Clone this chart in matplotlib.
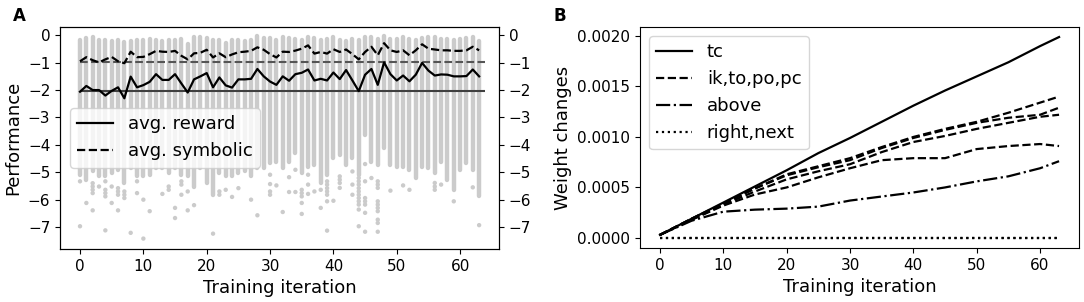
import matplotlib
matplotlib.use("Agg")
import matplotlib.pyplot as plt
from matplotlib.ticker import FormatStrFormatter
import numpy as np

# ---------------- Panel A data ----------------
iterations = list(range(64))

avg_reward = [-2.06, -1.85, -2.00, -2.00, -2.20, -2.03, -1.90, -2.30, -1.51, -1.90,
              -1.82, -1.70, -1.42, -1.63, -1.63, -1.42, -1.76, -2.09, -1.61, -1.50,
              -1.38, -1.90, -1.54, -1.83, -1.91, -1.61, -1.61, -1.59, -1.23, -1.50,
              -1.69, -1.81, -1.50, -1.66, -1.42, -1.37, -1.25, -1.65, -1.59, -1.65,
              -1.36, -1.60, -1.27, -1.65, -2.04, -1.44, -1.23, -1.81, -0.99, -1.42,
              -1.65, -1.47, -1.68, -1.44, -1.01, -1.29, -1.47, -1.43, -1.44, -1.50,
              -1.50, -1.49, -1.25, -1.50]

avg_symbolic = [-0.95, -0.80, -0.91, -0.99, -0.88, -0.79, -0.95, -1.02, -0.60, -0.80,
                -0.79, -0.69, -0.57, -0.60, -0.61, -0.57, -0.75, -0.88, -0.66, -0.64,
                -0.53, -0.81, -0.66, -0.80, -0.70, -0.62, -0.60, -0.57, -0.44, -0.53,
                -0.69, -0.81, -0.60, -0.61, -0.56, -0.49, -0.37, -0.67, -0.61, -0.67,
                -0.51, -0.61, -0.52, -0.69, -0.88, -0.61, -0.42, -0.73, -0.29, -0.55,
                -0.61, -0.55, -0.73, -0.55, -0.33, -0.49, -0.52, -0.55, -0.55, -0.57,
                -0.57, -0.55, -0.42, -0.55]

baseline_reward = -2.05
baseline_symbolic = -0.96

# dense part of each iteration's reward distribution (top / bottom of the column)
column_top = [-0.17, -0.10, -0.07, -0.19, -0.17, -0.22, -0.16, -0.25, -0.22, -0.17,
              -0.17, -0.15, -0.17, -0.22, -0.17, -0.19, -0.13, -0.32, -0.05, -0.07,
              -0.10, -0.19, -0.17, -0.29, -0.19, -0.19, -0.22, -0.19, -0.01, -0.10,
              -0.10, -0.17, -0.07, -0.10, -0.15, -0.17, -0.07, -0.10, -0.19, -0.13,
              -0.07, -0.17, -0.22, -0.13, -0.19, -0.07, -0.05, -0.13, -0.01, -0.13,
              -0.15, -0.07, -0.13, -0.17, -0.10, -0.07, -0.07, -0.13, -0.15, -0.17,
              -0.15, -0.10, -0.07, -0.22]

column_bottom = [-5.09, -5.27, -4.97, -5.15, -5.15, -5.03, -4.91, -5.39, -4.85, -5.15,
                 -5.15, -5.09, -4.85, -4.85, -5.03, -4.85, -5.09, -5.15, -5.52, -4.85,
                 -5.39, -5.82, -5.03, -5.15, -5.15, -5.03, -4.97, -5.15, -4.85, -4.85,
                 -4.67, -4.61, -4.85, -4.61, -4.30, -5.03, -4.79, -4.73, -5.39, -5.09,
                 -4.48, -4.36, -4.73, -4.48, -5.09, -3.64, -4.61, -4.73, -4.12, -4.73,
                 -4.79, -4.79, -4.91, -5.21, -4.79, -4.85, -5.03, -4.61, -5.27, -5.64,
                 -4.91, -4.67, -4.91, -5.88]

# isolated low rewards per iteration
outliers = [
    [-5.33, -6.97], [-6.12], [-5.40, -5.52, -5.64, -5.76, -6.39], [-5.52],
    [-5.33, -5.64, -5.76, -5.88, -7.12], [-5.52, -6.12], [-5.58, -5.70, -5.82, -6.39],
    [-5.70, -5.82, -5.94], [-7.21], [-5.33, -5.76],
    [-6.00, -7.42], [-6.42], [], [-5.79], [-5.52, -5.64], [-6.30, -6.67],
    [-5.33, -5.45, -5.82], [-5.70, -6.39], [-6.20], [],
    [], [-7.24], [-5.70, -5.82], [-5.64], [-5.90], [-5.58], [], [-6.00], [-6.57], [],
    [-5.09, -5.43, -5.70, -5.82], [-5.48], [-6.45], [-5.18, -5.72], [-4.91, -5.72],
    [-5.64, -5.76, -5.88, -6.12, -6.52], [-5.09, -5.45, -5.79], [-5.70], [-5.64, -6.30],
    [-5.33, -5.45, -5.58, -5.70, -5.82, -6.06, -7.13],
    [-6.04], [-5.15, -5.27, -5.39, -5.57], [], [-4.97, -5.45, -5.82],
    [-5.21, -5.33, -5.45, -5.58, -5.70, -5.82, -5.94, -6.06, -6.18, -6.36, -6.97],
    [-4.70, -5.33, -5.94, -6.06, -6.18, -6.48, -7.17], [-5.21],
    [-5.33, -5.45, -5.57, -6.06, -6.18, -6.30, -6.42, -6.73, -6.85, -7.17],
    [], [-5.67],
    [], [-5.48], [-5.64], [], [], [], [-5.39, -5.52, -5.64], [-5.45], [], [-6.06],
    [], [], [-5.55], [-6.93],
]

perf_ticks = [0, -1, -2, -3, -4, -5, -6, -7]

# ---------------- Panel B data ----------------
iter_b = [0, 5, 10, 15, 20, 25, 30, 35, 40, 45, 50, 55, 60, 63]
w_tc = [0.00003, 0.00019, 0.00035, 0.00051, 0.00067, 0.00084, 0.00099, 0.00115,
        0.00131, 0.00146, 0.00160, 0.00174, 0.00190, 0.00199]
w_ik = [0.00003, 0.00019, 0.00034, 0.00049, 0.00063, 0.00071, 0.00079, 0.00090,
        0.00100, 0.00108, 0.00115, 0.00124, 0.00134, 0.00140]
w_to = [0.00003, 0.00019, 0.00034, 0.00049, 0.00062, 0.00070, 0.00077, 0.00089,
        0.00099, 0.00107, 0.00114, 0.00119, 0.00122, 0.00129]
w_po = [0.00003, 0.00018, 0.00033, 0.00046, 0.00058, 0.00066, 0.00073, 0.00085,
        0.00095, 0.00101, 0.00108, 0.00114, 0.00120, 0.00122]
w_pc = [0.00003, 0.00018, 0.00032, 0.00043, 0.00050, 0.00060, 0.00069, 0.00077,
        0.00079, 0.00079, 0.00088, 0.00091, 0.00093, 0.00091]
w_above = [0.00003, 0.00017, 0.00026, 0.00028, 0.00029, 0.00031, 0.00037, 0.00041,
           0.00045, 0.00050, 0.00056, 0.00061, 0.00069, 0.00076]
w_right = [0.0, 0.0, 0.0, 0.0, 0.0, 0.0, 0.0, 0.0, 0.0, 0.0, 0.0, 0.0, 0.0, 0.0]
w_next = [0.0, 0.0, 0.0, 0.0, 0.0, 0.0, 0.0, 0.0, 0.0, 0.0, 0.0, 0.0, 0.0, 0.0]
weight_ticks = [0.0, 0.0005, 0.0010, 0.0015, 0.0020]

# ---------------- Figure ----------------
plt.rcParams['font.family'] = ['DejaVu Sans']
fig = plt.figure(figsize=(10.84, 3.02), dpi=100)
axA = fig.add_axes([0.0554, 0.1755, 0.405, 0.735])
axB = fig.add_axes([0.5904, 0.1788, 0.405, 0.732])

dot_color = '#cbcbcb'
colA = axA.vlines(iterations, column_bottom, column_top, colors=dot_color,
                  linewidth=3.2, zorder=1)
colA.set_capstyle('round')
ox = [i for i, vals in zip(iterations, outliers) for _ in vals]
oy = [v for vals in outliers for v in vals]
axA.scatter(ox, oy, s=10, color=dot_color, edgecolors='none', zorder=1)

axA.hlines(baseline_reward, 0, 64, colors='#404040', linewidth=1.5, zorder=2)
axA.hlines(baseline_symbolic, 0, 64, colors='#555555', linewidth=1.5,
           linestyles='--', zorder=2)
axA.plot(iterations, avg_reward, color='black', linewidth=1.6, zorder=3,
         label='avg. reward')
axA.plot(iterations, avg_symbolic, color='black', linewidth=1.6, linestyle='--',
         zorder=3, label='avg. symbolic')

axA.set_xlim(-3.15, 66.15)
axA.set_ylim(-7.8, 0.3)
axA.set_yticks(perf_ticks)
axA.set_xticks([0, 10, 20, 30, 40, 50, 60])
axA.tick_params(labelsize=11)
axA.set_xlabel('Training iteration', fontsize=13)
axA.set_ylabel('Performance', fontsize=13)
axA.legend(loc='upper left', bbox_to_anchor=(0.023, 0.635), borderaxespad=0,
           fontsize=13)
axA2 = axA.twinx()
axA2.set_ylim(axA.get_ylim())
axA2.set_yticks(perf_ticks)
axA2.tick_params(labelsize=11)

axB.plot(iter_b, w_tc, color='black', linewidth=1.6, label='tc')
axB.plot(iter_b, w_ik, color='black', linewidth=1.6, linestyle='--',
         label='ik,to,po,pc')
for w in (w_to, w_po, w_pc):
    axB.plot(iter_b, w, color='black', linewidth=1.6, linestyle='--')
axB.plot(iter_b, w_above, color='black', linewidth=1.6, linestyle='-.',
         label='above')
axB.plot(iter_b, w_right, color='black', linewidth=1.6, linestyle=':',
         label='right,next')
axB.plot(iter_b, w_next, color='black', linewidth=1.6, linestyle=':')
axB.set_xlim(-3.15, 66.15)
axB.set_ylim(-0.0001, 0.00209)
axB.set_yticks(weight_ticks)
axB.yaxis.set_major_formatter(FormatStrFormatter('%.4f'))
axB.set_xticks([0, 10, 20, 30, 40, 50, 60])
axB.tick_params(labelsize=11)
axB.set_xlabel('Training iteration', fontsize=13)
axB.set_ylabel('Weight changes', fontsize=13)
axB.legend(loc='upper left', fontsize=13)

fig.text(0.012, 0.93, 'A', fontsize=12, fontweight='bold')
fig.text(0.511, 0.93, 'B', fontsize=12, fontweight='bold')

fig.savefig('out.png', dpi=100)
